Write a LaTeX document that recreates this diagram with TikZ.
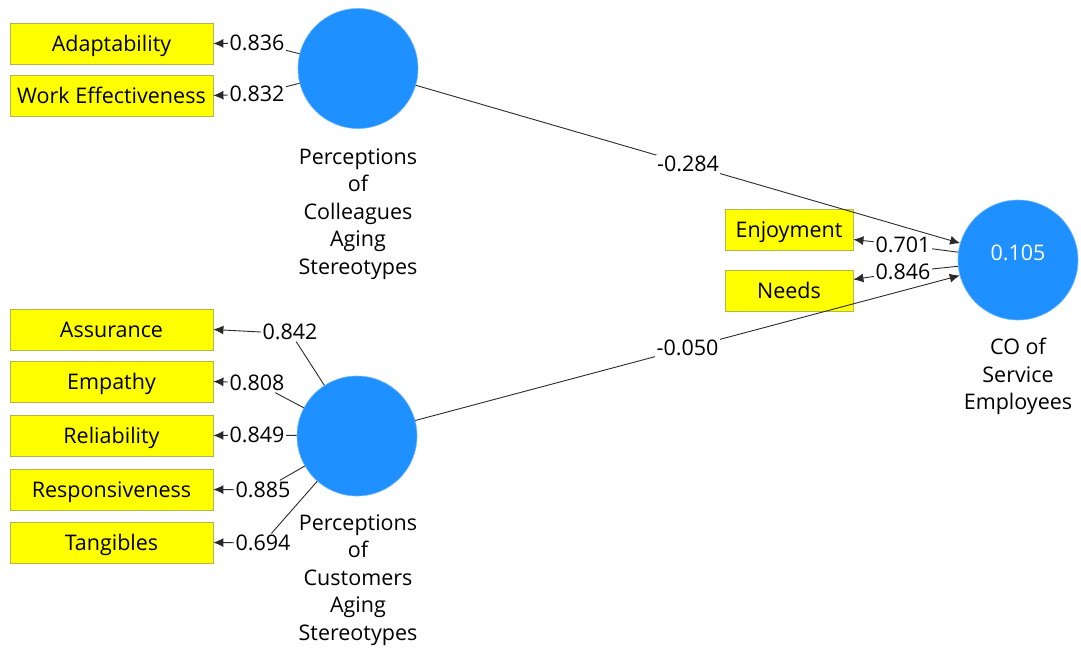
\documentclass[tikz,border=0pt]{standalone}
\usepackage{fontspec}
\setmainfont{Open Sans}
\usetikzlibrary{arrows.meta,calc}
\definecolor{lvblue}{HTML}{1E90FF}
\definecolor{lvbord}{HTML}{6DB8FF}
\definecolor{indyel}{HTML}{FFFF00}
\definecolor{indbord}{HTML}{B5B54A}
\definecolor{linegray}{HTML}{2A2A2A}
\begin{document}
\begin{tikzpicture}[x=1pt,y=-1pt,
  every node/.style={font=\fontsize{21.5}{27.5}\selectfont},
  ind/.style={draw=indbord, fill=indyel, minimum width=203pt, minimum height=41pt, inner sep=0pt, line width=0.8pt, text height=15pt, text depth=0pt},
  indr/.style={ind, minimum width=128pt},
  lv/.style={circle, fill=lvblue, draw=lvbord, line width=0.6pt, minimum size=120pt, inner sep=0pt},
  lab/.style={fill=white, inner sep=1.5pt},
  conn/.style={draw=linegray, line width=0.9pt},
  arr/.style={conn, -{Latex[length=10pt,width=9pt]}},
  captxt/.style={align=center, text=black}
]
\useasboundingbox (0,0) rectangle (1081,653);

% indicators
\node[ind] (adapt) at (111.5,43.5) {Adaptability};
\node[ind] (work) at (111.5,95.5) {Work Effectiveness};
\node[ind] (assur) at (111.5,329.5) {Assurance};
\node[ind] (empat) at (111.5,381.5) {Empathy};
\node[ind] (relia) at (111.5,435.5) {Reliability};
\node[ind] (respo) at (111.5,489.5) {Responsiveness};
\node[ind] (tangi) at (111.5,542.5) {Tangibles};
\node[indr] (enjoy) at (789,229.5) {Enjoyment};
\node[indr] (needs) at (789,290.5) {Needs};

% latent variables
\node[lv] (pcol) at (358,68.5) {};
\node[lv] (pcus) at (357,436) {};
\node[lv] (co) at (1018,260) {};
\node[text=white] (r2) at (1018,253) {0.105};

\node[captxt] (pcoltxt) at (358,214) {Perceptions\\of\\Colleagues\\Aging\\Stereotypes};
\node[captxt] (pcustxt) at (358,580) {Perceptions\\of\\Customers\\Aging\\Stereotypes};
\node[captxt] (cotxt) at (1018,376.5) {CO of\\Service\\Employees};

% loading labels
\node[lab] (l836) at (257,43) {0.836};
\node[lab] (l832) at (257,94) {0.832};
\node[lab] (l842) at (290,332) {0.842};
\node[lab] (l808) at (257,383) {0.808};
\node[lab] (l849) at (257,435) {0.849};
\node[lab] (l885) at (263,490) {0.885};
\node[lab] (l694) at (263,543) {0.694};
\node[lab] (l701) at (903,245) {0.701};
\node[lab] (l846) at (903,272) {0.846};

% loadings
\draw[conn] (pcol) -- (l836);
\draw[arr] (l836) -- (adapt.east);
\draw[conn] (pcol) -- (l832);
\draw[arr] (l832) -- (work.east);
\draw[conn] (pcus) -- (l842);
\draw[arr] (l842.west) -- (assur.east);
\draw[conn] (pcus) -- (l808);
\draw[arr] (l808) -- (empat.east);
\draw[conn] (pcus) -- (l849);
\draw[arr] (l849) -- (relia.east);
\draw[conn] (pcus) -- (l885);
\draw[arr] (l885) -- (respo.east);
\draw[conn] (pcus) -- (l694);
\draw[arr] (l694) -- (tangi.east);
\draw[conn] (co) -- (l701);
\draw[arr] (l701) -- ($(enjoy.east)+(0,10)$);
\draw[conn] (co) -- (l846);
\draw[arr] (l846) -- ($(needs.east)+(0,-11)$);

% paths
\draw[arr] (pcol) -- node[lab, pos=0.5] (l284) {-0.284} (co);
\draw[arr] (pcus) -- node[lab, pos=0.5] (l050) {-0.050} (co);
\end{tikzpicture}
\end{document}
